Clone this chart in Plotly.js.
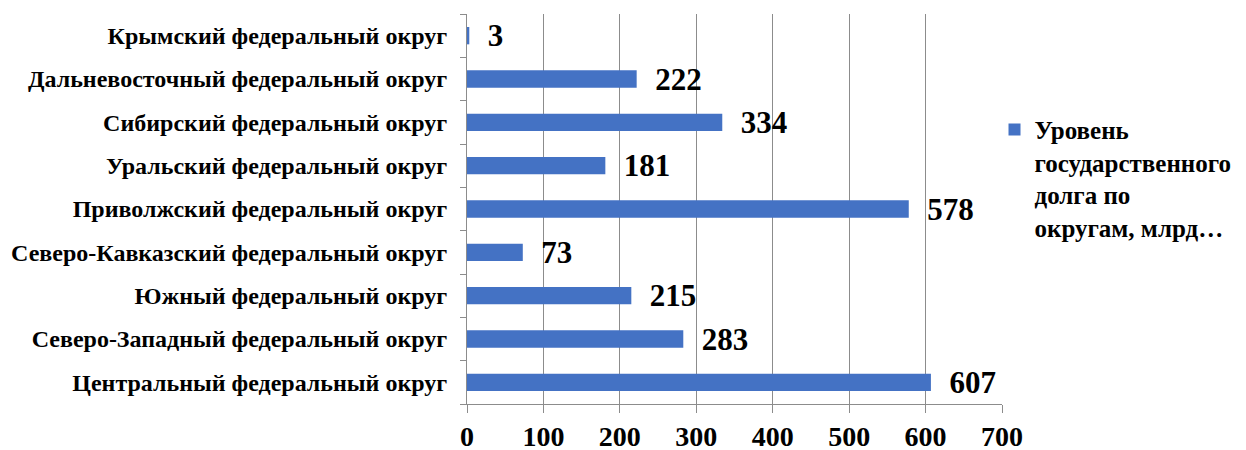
<!DOCTYPE html>
<html>
<head>
<meta charset="utf-8">
<script src="https://cdn.plot.ly/plotly-3.0.1.min.js"></script>
<style>html,body{margin:0;padding:0;background:#fff;}#chart{width:1246px;height:450px;}</style>
</head>
<body>
<div id="chart"></div>
<script>
const districts = [
  "Центральный федеральный округ",
  "Северо-Западный федеральный округ",
  "Южный федеральный округ",
  "Северо-Кавказский федеральный округ",
  "Приволжский федеральный округ",
  "Уральский федеральный округ",
  "Сибирский федеральный округ",
  "Дальневосточный федеральный округ",
  "Крымский федеральный округ"
];
const debtValues = [607, 283, 215, 73, 578, 181, 334, 222, 3];
const seriesName = "Уровень<br>государственного<br>долга по<br>округам, млрд…";
const xTickValues = [0, 100, 200, 300, 400, 500, 600, 700];

const serif = "Liberation Serif, Times New Roman, serif";

const trace = {
  type: "bar",
  orientation: "h",
  y: districts,
  x: debtValues,
  name: seriesName,
  marker: {color: "#4472C4"},
  text: debtValues.map(String),
  texttemplate: "  %{text}",
  textposition: "outside",
  constraintext: "none",
  cliponaxis: false,
  textfont: {family: serif, size: 31, color: "#000", weight: "bold"},
  showlegend: true,
  hoverinfo: "skip"
};

const layout = {
  width: 1246,
  height: 450,
  margin: {l: 467, r: 244, t: 14, b: 46, pad: 0, autoexpand: false},
  paper_bgcolor: "#fff",
  plot_bgcolor: "#fff",
  bargap: 0.6,
  showlegend: true,
  xaxis: {
    range: [0, 700],
    tickvals: xTickValues,
    ticktext: xTickValues.map(String),
    showgrid: true,
    gridcolor: "#8c8c8c",
    gridwidth: 1,
    zeroline: false,
    showline: true,
    linecolor: "#8c8c8c",
    linewidth: 1,
    ticks: "outside",
    ticklen: 8,
    tickcolor: "#8c8c8c",
    ticklabelstandoff: -1,
    tickfont: {family: serif, size: 28, color: "#000", weight: "bold"},
    fixedrange: true
  },
  yaxis: {
    type: "category",
    categoryorder: "array",
    categoryarray: districts,
    showgrid: false,
    zeroline: false,
    showline: true,
    linecolor: "#8c8c8c",
    linewidth: 1,
    ticks: "outside",
    tickson: "boundaries",
    ticklen: 6,
    tickcolor: "#8c8c8c",
    ticklabelstandoff: 14,
    tickfont: {family: serif, size: 24, color: "#000", weight: "bold"},
    fixedrange: true
  },
  legend: {
    x: 0.986,
    xanchor: "left",
    y: 0.762,
    yanchor: "top",
    valign: "top",
    font: {family: serif, size: 25, color: "#000", weight: "bold"},
    bgcolor: "rgba(0,0,0,0)",
    itemclick: false
  }
};

Plotly.newPlot("chart", [trace], layout, {displayModeBar: false, staticPlot: true});
</script>
</body>
</html>
